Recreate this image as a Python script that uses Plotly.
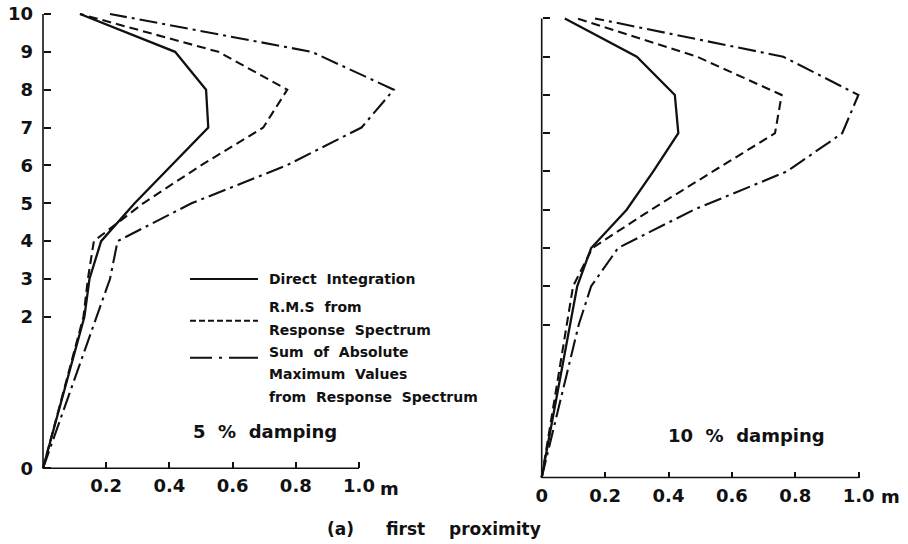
import plotly.graph_objects as go

# Floor levels and their plotted heights (the ground storey is twice as tall)
levels = [0, 2, 3, 4, 5, 6, 7, 8, 9, 10]
heights = [0, 4, 5, 6, 7, 8, 9, 10, 11, 12]

# 5 % damping - maximum displacement (m)
direct_5 = [0, 0.131, 0.147, 0.184, 0.290, 0.407, 0.523, 0.516, 0.418, 0.117]
rms_5 = [0, 0.128, 0.142, 0.161, 0.317, 0.500, 0.697, 0.773, 0.555, 0.117]
sum_5 = [0, 0.168, 0.212, 0.236, 0.470, 0.771, 1.008, 1.110, 0.850, 0.212]

# 10 % damping - maximum displacement (m)
direct_10 = [0, 0.088, 0.112, 0.156, 0.268, 0.352, 0.431, 0.420, 0.300, 0.073]
rms_10 = [0, 0.078, 0.099, 0.160, 0.345, 0.540, 0.736, 0.757, 0.490, 0.112]
sum_10 = [0, 0.117, 0.156, 0.241, 0.480, 0.773, 0.948, 0.999, 0.762, 0.168]

x_ticks_left = [0.2, 0.4, 0.6, 0.8, 1.0]
x_ticks_right = [0, 0.2, 0.4, 0.6, 0.8, 1.0]
x_ticktext_left = ["0.2", "0.4", "0.6", "0.8", "1.0"]
x_ticktext_right = ["0", "0.2", "0.4", "0.6", "0.8", "1.0"]

W, H = 908, 544
FONT = "DejaVu Sans"
INK = "#111111"

DASH = "9px,5px"
DASHDOT = "18px,5px,3px,5px"


def px_x(p):
    return p / W


def px_y(p):
    return 1 - p / H


def domain(origin_px, unit_px, lo, hi, horizontal=True):
    a = origin_px + unit_px * lo
    b = origin_px + unit_px * hi
    if horizontal:
        return [px_x(a), px_x(b)]
    return sorted([px_y(a), px_y(b)])


fig = go.Figure()

panels = [
    dict(xa="x", ya="y", data=(direct_5, rms_5, sum_5)),
    dict(xa="x2", ya="y2", data=(direct_10, rms_10, sum_10)),
]
styles = [("solid", 2.3), (DASH, 2.1), (DASHDOT, 2.1)]
for p in panels:
    for series, (dash, w) in zip(p["data"], styles):
        fig.add_trace(go.Scatter(
            x=series, y=heights, mode="lines", xaxis=p["xa"], yaxis=p["ya"],
            line=dict(color=INK, width=w, dash=dash), showlegend=False,
            hoverinfo="skip"))

# pixel frames of the two panels: origin and pixels per unit
L = dict(ox=43, oy=469, sx=316, sy=38)
R = dict(ox=541.7, oy=478.3, sx=317, sy=38.4)
xr_l = [-0.03, 1.16]
xr_r = [-0.03, 1.06]
yr = [-0.25, 12.25]

tick_font = dict(family=FONT, size=18, color=INK, weight="bold")
common = dict(showgrid=False, zeroline=False, showline=False, ticks="inside",
              tickcolor=INK, tickwidth=1.5, tickfont=tick_font)

fig.update_layout(
    width=W, height=H, margin=dict(l=0, r=0, t=0, b=0),
    paper_bgcolor="white", plot_bgcolor="white", showlegend=False,
    xaxis=dict(domain=domain(L["ox"], L["sx"], *xr_l), range=xr_l,
               anchor="free", position=px_y(L["oy"]),
               tickvals=x_ticks_left, ticktext=x_ticktext_left,
               ticklen=6, ticklabelstandoff=5, **common),
    yaxis=dict(domain=domain(L["oy"], -L["sy"], *yr, horizontal=False), range=yr,
               anchor="free", position=px_x(L["ox"]),
               tickvals=heights, ticktext=[str(v) for v in levels],
               ticklen=7, ticklabelstandoff=10, **common),
    xaxis2=dict(domain=domain(R["ox"], R["sx"], *xr_r), range=xr_r,
                anchor="free", position=px_y(R["oy"]),
                tickvals=x_ticks_right, ticktext=x_ticktext_right,
                ticklen=6, ticklabelstandoff=5, **common),
    yaxis2=dict(domain=domain(R["oy"], -R["sy"], *yr, horizontal=False), range=yr,
                anchor="free", position=px_x(R["ox"]),
                tickvals=heights[1:], showticklabels=False,
                ticklen=7, **common),
)

# axis lines from the origin to the last tick
for xa, ya in (("x", "y"), ("x2", "y2")):
    fig.add_shape(type="line", xref=xa, yref=ya, x0=0, y0=0, x1=1.0, y1=0,
                  line=dict(color=INK, width=1.6))
    fig.add_shape(type="line", xref=xa, yref=ya, x0=0, y0=0, x1=0, y1=heights[-1],
                  line=dict(color=INK, width=1.6))

# legend samples
legend_lines = [(279, "solid"), (321, "6px,3px"), (358, "22px,7px,3px,7px,30px")]
for yy, dash in legend_lines:
    fig.add_shape(type="line", xref="paper", yref="paper",
                  x0=px_x(190), x1=px_x(258), y0=px_y(yy), y1=px_y(yy),
                  line=dict(color=INK, width=2, dash=dash))


def label(text, x, y, size, anchor="left"):
    fig.add_annotation(text=text, xref="paper", yref="paper", x=px_x(x), y=px_y(y),
                       xanchor=anchor, yanchor="middle", showarrow=False,
                       font=dict(family=FONT, size=size, color=INK, weight="bold"))


legend_text = [
    ("Direct  Integration", 279),
    ("R.M.S  from", 307),
    ("Response  Spectrum", 330),
    ("Sum  of  Absolute", 352),
    ("Maximum  Values", 374),
    ("from  Response  Spectrum", 397),
]
for t, yy in legend_text:
    label(t, 267, yy, 14)

label("5  %  damping", 191, 432, 18)
label("10  %  damping", 666, 436, 18)

label("m", 389, 489, 18, "center")
label("m", 890, 497, 18, "center")

label("(a)", 340, 530, 17, "center")
label("first", 405, 530, 17, "center")
label("proximity", 495, 530, 17, "center")

fig.write_html("out.html")
